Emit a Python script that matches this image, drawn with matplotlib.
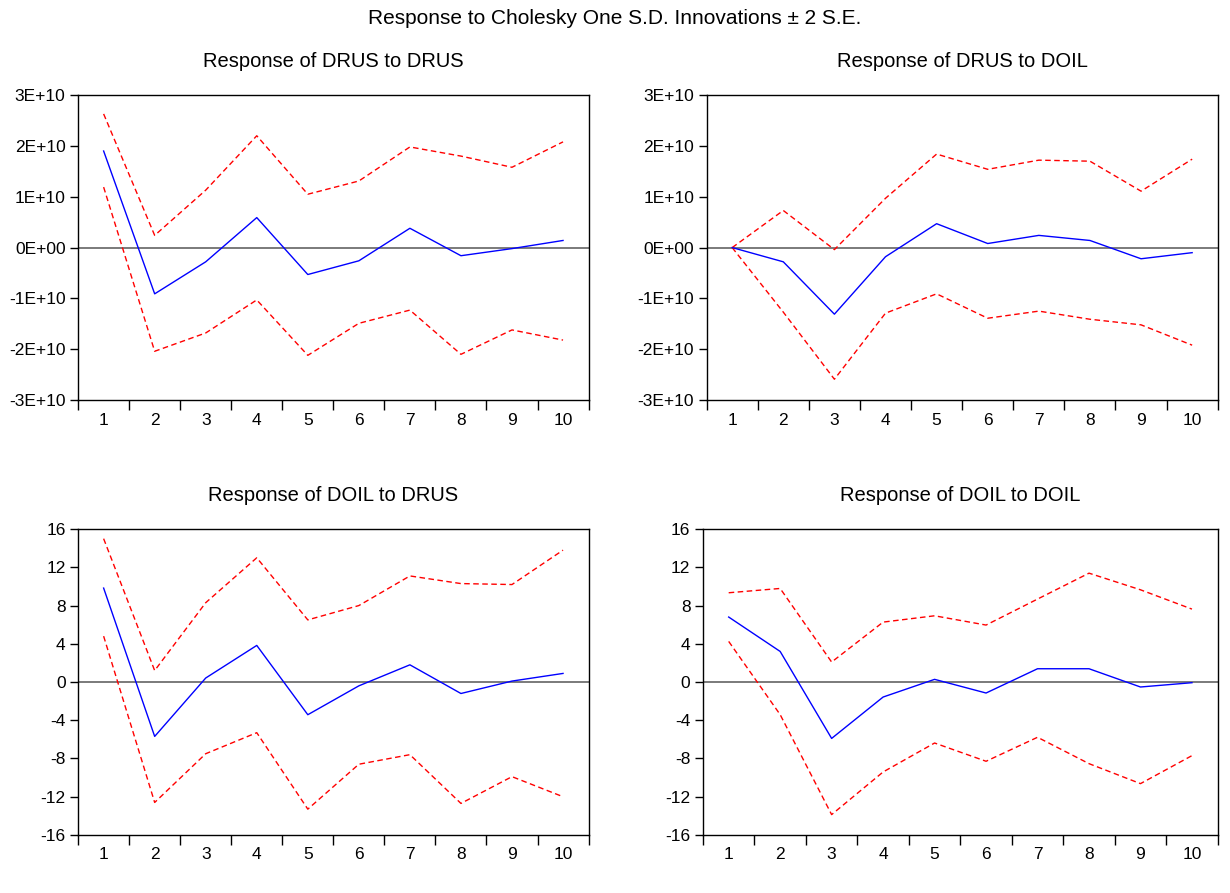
import matplotlib
matplotlib.use("Agg")
import matplotlib.pyplot as plt
import numpy as np

plt.rcParams['font.family'] = ['Liberation Sans', 'DejaVu Sans']

horizons = list(range(1, 11))

# Response of DRUS to DRUS (units 1E+10)
drus_drus = [1.90, -0.91, -0.28, 0.59, -0.53, -0.26, 0.38, -0.16, -0.02, 0.14]
drus_drus_up = [2.63, 0.24, 1.13, 2.20, 1.05, 1.31, 1.98, 1.80, 1.58, 2.08]
drus_drus_lo = [1.19, -2.04, -1.68, -1.03, -2.12, -1.49, -1.23, -2.10, -1.62, -1.82]

# Response of DRUS to DOIL (units 1E+10)
drus_doil = [0.0, -0.28, -1.31, -0.18, 0.47, 0.08, 0.24, 0.14, -0.22, -0.10]
drus_doil_up = [0.0, 0.73, -0.04, 0.97, 1.84, 1.54, 1.72, 1.70, 1.11, 1.74]
drus_doil_lo = [0.0, -1.27, -2.59, -1.29, -0.91, -1.39, -1.25, -1.41, -1.52, -1.92]

# Response of DOIL to DRUS
doil_drus = [9.83, -5.69, 0.42, 3.83, -3.42, -0.4, 1.8, -1.2, 0.1, 0.9]
doil_drus_up = [15.0, 1.2, 8.3, 13.0, 6.5, 8.0, 11.1, 10.3, 10.2, 13.8]
doil_drus_lo = [4.8, -12.6, -7.5, -5.3, -13.3, -8.6, -7.6, -12.7, -9.9, -12.0]

# Response of DOIL to DOIL
doil_doil = [6.8, 3.2, -5.9, -1.57, 0.28, -1.15, 1.39, 1.39, -0.52, -0.07]
doil_doil_up = [9.34, 9.79, 2.09, 6.27, 6.93, 5.96, 8.68, 11.39, 9.65, 7.63]
doil_doil_lo = [4.25, -3.41, -13.87, -9.41, -6.38, -8.29, -5.78, -8.54, -10.63, -7.70]

sci_ticks = [-3e10, -2e10, -1e10, 0, 1e10, 2e10, 3e10]
sci_labels = ['-3E+10', '-2E+10', '-1E+10', '0E+00', '1E+10', '2E+10', '3E+10']
oil_ticks = [-16, -12, -8, -4, 0, 4, 8, 12, 16]

panels = [
    ('Response of DRUS to DRUS', drus_drus, drus_drus_up, drus_drus_lo, 1e10, sci_ticks, sci_labels, [0.0635, 0.552, 0.415, 0.3415]),
    ('Response of DRUS to DOIL', drus_doil, drus_doil_up, drus_doil_lo, 1e10, sci_ticks, sci_labels, [0.5745, 0.552, 0.4155, 0.3415]),
    ('Response of DOIL to DRUS', doil_drus, doil_drus_up, doil_drus_lo, 1, oil_ticks, [str(t) for t in oil_ticks], [0.0635, 0.065, 0.415, 0.3425]),
    ('Response of DOIL to DOIL', doil_doil, doil_doil_up, doil_doil_lo, 1, oil_ticks, [str(t) for t in oil_ticks], [0.5715, 0.065, 0.4185, 0.3425]),
]

fig = plt.figure(figsize=(12.3, 8.93), dpi=100)
fig.text(0.5, 0.979, 'Response to Cholesky One S.D. Innovations \u00b1 2 S.E.',
         ha='center', va='center', fontsize=15)

for title, mid, up, lo, scale, yt, yl, rect in panels:
    ax = fig.add_axes(rect)
    ax.axhline(0, color='#707070', lw=1.3, zorder=1)
    ax.plot(horizons, np.array(mid) * scale, color='blue', lw=1.0, zorder=3)
    ax.plot(horizons, np.array(up) * scale, color='red', lw=1.0, ls=(0, (4, 2.5)), zorder=2)
    ax.plot(horizons, np.array(lo) * scale, color='red', lw=1.0, ls=(0, (4, 2.5)), zorder=2)
    ax.set_xlim(0.5, 10.5)
    ax.set_ylim(yt[0], yt[-1])
    ax.set_yticks(yt)
    ax.set_yticklabels(yl)
    ax.set_xticks(np.arange(0.5, 11, 1.0))
    ax.set_xticklabels([])
    ax.set_xticks(horizons, minor=True)
    ax.set_xticklabels([str(h) for h in horizons], minor=True)
    ax.tick_params(axis='x', which='major', direction='out', length=7, width=1)
    ax.tick_params(axis='x', which='minor', length=0, pad=9, labelsize=12.5)
    ax.tick_params(axis='y', direction='out', length=6, width=1, labelsize=12.5, pad=3)
    for s in ax.spines.values():
        s.set_linewidth(1.0)
    ax.set_title(title, fontsize=14.5, pad=20)

fig.savefig('out.png', dpi=100)
